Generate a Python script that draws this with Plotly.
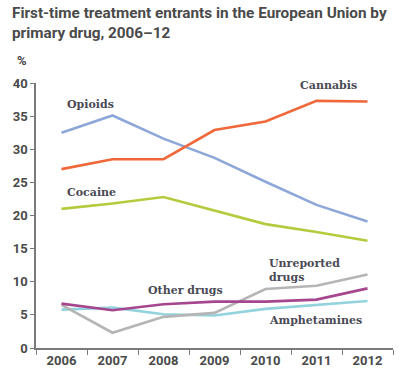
import plotly.graph_objects as go

years = ["2006", "2007", "2008", "2009", "2010", "2011", "2012"]
opioids = [32.5, 35.1, 31.6, 28.7, 25.1, 21.6, 19.1]
cannabis = [27.0, 28.5, 28.5, 32.9, 34.2, 37.3, 37.2]
cocaine = [21.0, 21.8, 22.8, 20.7, 18.7, 17.5, 16.2]
other_drugs = [6.7, 5.7, 6.6, 7.0, 7.0, 7.3, 9.0]
amphetamines = [5.8, 6.1, 5.1, 4.9, 5.9, 6.5, 7.1]
unreported = [6.5, 2.3, 4.7, 5.3, 8.9, 9.4, 11.1]

series = [
    ("Opioids", opioids, "#8EA7D9"),
    ("Cannabis", cannabis, "#F0683A"),
    ("Cocaine", cocaine, "#B3CC3E"),
    ("Amphetamines", amphetamines, "#93D3DE"),
    ("Unreported drugs", unreported, "#B5B5B5"),
    ("Other drugs", other_drugs, "#A5468F"),
]

W, H = 409, 382
ML, MR, MT, MB = 36, 16, 83, 34
PW, PH = W - ML - MR, H - MT - MB

def px(x):
    return (x - ML) / PW

def py(y):
    return (H - MB - y) / PH

fig = go.Figure()
for name, vals, col in series:
    fig.add_trace(go.Scatter(x=years, y=vals, mode="lines", name=name,
                             line=dict(color=col, width=2.6), showlegend=False,
                             hoverinfo="skip"))

lab_font = dict(family="DejaVu Serif", size=11, color="#4a4a55")
labels = [
    ("<b>Opioids</b>", 0.07, 36.8, "left"),
    ("<b>Cannabis</b>", 5.24, 39.6, "center"),
    ("<b>Cocaine</b>", 0.07, 23.5, "left"),
    ("<b>Other drugs</b>", 2.43, 8.75, "center"),
    ("<b>Unreported<br>drugs</b>", 4.03, 11.7, "left"),
    ("<b>Amphetamines</b>", 4.99, 4.2, "center"),
]
for t, x, y, xa in labels:
    fig.add_annotation(text=t, x=x, y=y, xref="x", yref="y", showarrow=False,
                       xanchor=xa, yanchor="middle", align="left", font=lab_font)

fig.add_annotation(text="<b>%</b>", x=px(22), y=py(60), xref="paper", yref="paper",
                   showarrow=False, xanchor="center", yanchor="middle",
                   font=dict(family="Roboto", size=13, color="#444"))

fig.add_annotation(text="<b>First-time treatment entrants in the European Union by<br>primary drug, 2006–12</b>",
                   x=px(10), y=py(2), xref="paper", yref="paper", showarrow=False,
                   xanchor="left", yanchor="top", align="left",
                   font=dict(family="Roboto", size=15.3, color="#4a4a4a"))

fig.update_layout(
    width=W, height=H,
    margin=dict(l=ML, r=MR, t=MT, b=MB, autoexpand=False),
    paper_bgcolor="white", plot_bgcolor="white",
    xaxis=dict(type="category", range=[-0.5, 6.5], showgrid=False, showline=True,
               linecolor="#7a7a7a", linewidth=1.5, ticks="outside", tickson="boundaries",
               ticklen=5, tickcolor="#7a7a7a", tickwidth=1.2,
               tickfont=dict(family="Roboto", size=13, color="#4a4a4a", weight="bold")),
    yaxis=dict(range=[0, 40], tickvals=[0, 5, 10, 15, 20, 25, 30, 35, 40], showgrid=False,
               showline=True, linecolor="#7a7a7a", linewidth=1.5, ticks="outside",
               ticklen=4, tickcolor="#7a7a7a", tickwidth=1.2, zeroline=False,
               tickfont=dict(family="Roboto", size=13, color="#4a4a4a", weight="bold")),
)

fig.write_html("out.html", config={"displayModeBar": False},
               post_script="document.body.style.margin='0';")
